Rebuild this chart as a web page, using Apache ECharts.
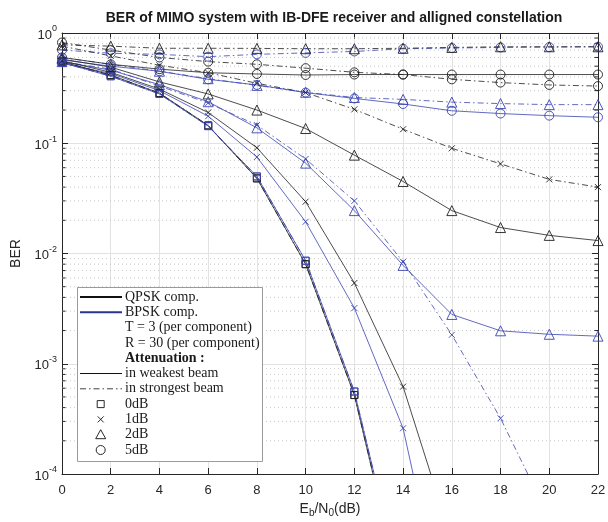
<!DOCTYPE html>
<html><head><meta charset="utf-8">
<script src="https://cdn.jsdelivr.net/npm/echarts@6/dist/echarts.min.js"></script>
<style>html,body{margin:0;padding:0;background:#fff}#c{width:608px;height:522px}</style>
</head><body><div id="c"></div>
<script>
// ---- data ----
const xValues = [0, 2, 4, 6, 8, 10, 12, 14, 16, 18, 20, 22];
const xTickLabels = ['0','2','4','6','8','10','12','14','16','18','20','22'];
const yDecades = [-4, -3, -2, -1, 0];

// weakest beam (solid)
const qpskWeak0dB = [0.55, 0.415, 0.285, 0.145, 0.048, 0.0080, 5.2e-4, 7e-6, null, null, null, null];
const bpskWeak0dB = [0.54, 0.405, 0.28, 0.143, 0.050, 0.0086, 5.6e-4, 8e-6, null, null, null, null];
const qpskWeak1dB = [0.56, 0.44, 0.31, 0.19, 0.091, 0.0295, 0.0054, 6.2e-4, 2.5e-5, null, null, null];
const bpskWeak1dB = [0.53, 0.43, 0.30, 0.176, 0.075, 0.0194, 0.0032, 2.6e-4, 2.5e-6, null, null, null];
const qpskWeak2dB = [0.58, 0.49, 0.36, 0.28, 0.20, 0.136, 0.078, 0.045, 0.0245, 0.0172, 0.0146, 0.0131];
const bpskWeak2dB = [0.55, 0.46, 0.34, 0.238, 0.138, 0.066, 0.0245, 0.0078, 0.0028, 0.00199, 0.00185, 0.00178];
const qpskWeak5dB = [0.60, 0.52, 0.47, 0.436, 0.425, 0.416, 0.42, 0.42, 0.42, 0.42, 0.42, 0.42];
const bpskWeak5dB = [0.57, 0.50, 0.45, 0.38, 0.338, 0.288, 0.255, 0.227, 0.197, 0.186, 0.178, 0.172];
// strongest beam (dash-dot)
const qpskStrong0dB = [0.55, 0.415, 0.285, 0.145, 0.048, 0.0080, 5.2e-4, 7e-6, null, null, null, null];
const bpskStrong0dB = [0.54, 0.405, 0.28, 0.143, 0.050, 0.0086, 5.6e-4, 8e-6, null, null, null, null];
const qpskStrong1dB = [0.76, 0.62, 0.51, 0.436, 0.35, 0.288, 0.203, 0.134, 0.09, 0.065, 0.047, 0.040];
const bpskStrong1dB = [0.55, 0.47, 0.33, 0.232, 0.146, 0.072, 0.030, 0.0084, 0.00183, 3.2e-4, 4e-5, 5e-6];
const qpskStrong2dB = [0.78, 0.76, 0.727, 0.727, 0.725, 0.72, 0.72, 0.727, 0.74, 0.75, 0.75, 0.75];
const bpskStrong2dB = [0.60, 0.52, 0.45, 0.385, 0.335, 0.29, 0.26, 0.25, 0.236, 0.229, 0.224, 0.224];
const qpskStrong5dB = [0.82, 0.70, 0.60, 0.55, 0.52, 0.48, 0.44, 0.42, 0.38, 0.355, 0.338, 0.33];
const bpskStrong5dB = [0.70, 0.655, 0.64, 0.61, 0.64, 0.66, 0.68, 0.72, 0.73, 0.74, 0.745, 0.75];

const legendRows = ['QPSK comp.', 'BPSK comp.', 'T = 3 (per component)', 'R = 30 (per component)',
  'Attenuation :', 'in weakest beam', 'in strongest beam', '0dB', '1dB', '2dB', '5dB'];

// ---- styling ----
const BLACK = '#1f1f1f';
const BLUE = '#3a44b2';
const DASHDOT = [6, 3, 1.5, 3];
const CROSS = 'path://M0,0L10,10M10,0L0,10';
const MARK = {
  '0dB': {symbol: 'rect', size: 7},
  '1dB': {symbol: CROSS, size: 6},
  '2dB': {symbol: 'triangle', size: 10},
  '5dB': {symbol: 'circle', size: 9}
};

function mkSeries(name, vals, color, dashed, att) {
  return {
    name: name, type: 'line', xAxisIndex: 0, yAxisIndex: 0,
    data: xValues.map((x, i) => [x, vals[i]]),
    connectNulls: false,
    symbol: MARK[att].symbol, symbolSize: MARK[att].size,
    showSymbol: true, showAllSymbol: true,
    lineStyle: {color: color, width: 0.8, type: dashed ? DASHDOT : 'solid'},
    itemStyle: {color: 'rgba(0,0,0,0)', borderColor: color, borderWidth: 0.9},
    emphasis: {disabled: true}, silent: true, clip: true, z: 5
  };
}

const seriesList = [
  mkSeries('qs5', qpskStrong5dB, BLACK, true, '5dB'),
  mkSeries('bs5', bpskStrong5dB, BLUE, true, '5dB'),
  mkSeries('qs2', qpskStrong2dB, BLACK, true, '2dB'),
  mkSeries('bs2', bpskStrong2dB, BLUE, true, '2dB'),
  mkSeries('qs1', qpskStrong1dB, BLACK, true, '1dB'),
  mkSeries('bs1', bpskStrong1dB, BLUE, true, '1dB'),
  mkSeries('qs0', qpskStrong0dB, BLACK, true, '0dB'),
  mkSeries('bs0', bpskStrong0dB, BLUE, true, '0dB'),
  mkSeries('qw5', qpskWeak5dB, BLACK, false, '5dB'),
  mkSeries('bw5', bpskWeak5dB, BLUE, false, '5dB'),
  mkSeries('qw2', qpskWeak2dB, BLACK, false, '2dB'),
  mkSeries('bw2', bpskWeak2dB, BLUE, false, '2dB'),
  mkSeries('qw1', qpskWeak1dB, BLACK, false, '1dB'),
  mkSeries('bw1', bpskWeak1dB, BLUE, false, '1dB'),
  mkSeries('qw0', qpskWeak0dB, BLACK, false, '0dB'),
  mkSeries('bw0', bpskWeak0dB, BLUE, false, '0dB')
];

// minor log grid (2..9 x each decade)
const minorVals = [];
yDecades.slice(0, -1).forEach(d => { for (let m = 2; m <= 9; m++) minorVals.push([0, m * Math.pow(10, d)]); });
seriesList.unshift({
  type: 'custom', xAxisIndex: 0, yAxisIndex: 0, silent: true, z: 1,
  data: minorVals, encode: {x: 0, y: 1},
  renderItem: function (params, api) {
    const v = api.value(1);
    const a = api.coord([xValues[0], v]);
    const b = api.coord([xValues[xValues.length - 1], v]);
    return {type: 'group', children: [
      {type: 'line', shape: {x1: a[0], y1: a[1], x2: b[0], y2: b[1]},
       style: {stroke: '#c8c8c8', lineWidth: 1, lineDash: [1, 3]}},
      {type: 'line', shape: {x1: a[0], y1: a[1], x2: a[0] + 3.5, y2: a[1]},
       style: {stroke: '#262626', lineWidth: 1}},
      {type: 'line', shape: {x1: b[0] - 3.5, y1: b[1], x2: b[0], y2: b[1]},
       style: {stroke: '#262626', lineWidth: 1}}
    ]};
  }
});

const AX = '#262626';
const FONT = '"Liberation Sans", Arial, Helvetica, sans-serif';
const SERIF = '"Liberation Serif", "Times New Roman", serif';

// ---- legend (graphic) ----
const LX = 77, LY = 287, LW = 185, LH = 174, ROW0 = 297, RSTEP = 15.3;
const lineX1 = 80, lineX2 = 122, txtX = 125, mkX = 100.7;
const g = [{type: 'rect', shape: {x: LX + 0.5, y: LY + 0.5, width: LW, height: LH},
  style: {fill: '#fff', stroke: '#9a9a9a', lineWidth: 1}, z: 50}];
legendRows.forEach((t, i) => {
  const y = ROW0 + i * RSTEP;
  g.push({type: 'text', x: txtX, y: y, z: 51,
    style: {text: t, font: (i === 4 ? 'bold ' : '') + '14px ' + SERIF, fill: '#1a1a1a',
      textVerticalAlign: 'middle', textAlign: 'left'}});
});
const ry = i => ROW0 + i * RSTEP;
g.push({type: 'line', z: 51, shape: {x1: lineX1, y1: ry(0), x2: lineX2, y2: ry(0)}, style: {stroke: '#111', lineWidth: 2}});
g.push({type: 'line', z: 51, shape: {x1: lineX1, y1: ry(1), x2: lineX2, y2: ry(1)}, style: {stroke: '#2a3590', lineWidth: 2}});
g.push({type: 'line', z: 51, shape: {x1: lineX1, y1: ry(5), x2: lineX2, y2: ry(5)}, style: {stroke: '#111', lineWidth: 1}});
g.push({type: 'line', z: 51, shape: {x1: lineX1, y1: ry(6), x2: lineX2, y2: ry(6)}, style: {stroke: '#111', lineWidth: 0.8, lineDash: DASHDOT}});
g.push({type: 'rect', z: 51, shape: {x: mkX - 3.5, y: ry(7) - 3.5, width: 7, height: 7}, style: {fill: 'none', stroke: '#111', lineWidth: 0.9}});
g.push({type: 'line', z: 51, shape: {x1: mkX - 3, y1: ry(8) - 3, x2: mkX + 3, y2: ry(8) + 3}, style: {stroke: '#111', lineWidth: 0.9}});
g.push({type: 'line', z: 51, shape: {x1: mkX - 3, y1: ry(8) + 3, x2: mkX + 3, y2: ry(8) - 3}, style: {stroke: '#111', lineWidth: 0.9}});
g.push({type: 'polygon', z: 51, shape: {points: [[mkX, ry(9) - 5], [mkX + 5, ry(9) + 4], [mkX - 5, ry(9) + 4]]}, style: {fill: 'none', stroke: '#111', lineWidth: 0.9}});
g.push({type: 'circle', z: 51, shape: {cx: mkX, cy: ry(10), r: 4.5}, style: {fill: 'none', stroke: '#111', lineWidth: 0.9}});
// title
g.push({type: 'text', x: 334, y: 18, z: 51, style: {text: 'BER of MIMO system with IB-DFE receiver and alligned constellation',
  font: 'bold 14px ' + FONT, fill: '#1a1a1a', textAlign: 'center', textVerticalAlign: 'middle'}});

const chart = echarts.init(document.getElementById('c'), null, {renderer: 'canvas'});
chart.setOption({
  animation: false,
  backgroundColor: '#fff',
  grid: {left: 62, right: 10, top: 33, bottom: 48, containLabel: false, outerBoundsMode: 'none'},
  xAxis: [{
    type: 'value', min: 0, max: 22, interval: 2, position: 'bottom',
    name: '{n|E}{s|b}{n|/N}{s|0}{n|(dB)}', nameLocation: 'middle', nameGap: 26,
    nameTextStyle: {rich: {
      n: {fontSize: 14, fontFamily: FONT, color: AX, verticalAlign: 'middle', lineHeight: 18},
      s: {fontSize: 10, fontFamily: FONT, color: AX, verticalAlign: 'bottom', lineHeight: 12}
    }},
    axisLine: {show: true, onZero: false, lineStyle: {color: AX, width: 1}},
    axisTick: {show: true, inside: true, length: 6, lineStyle: {color: AX}},
    axisLabel: {fontSize: 13, fontFamily: FONT, color: AX, margin: 10,
      formatter: v => xTickLabels[xValues.indexOf(v)]},
    splitLine: {show: true, lineStyle: {color: '#e2e2e2', width: 1}}
  }, {
    type: 'value', min: 0, max: 22, interval: 2, position: 'top',
    axisLine: {show: true, onZero: false, lineStyle: {color: AX, width: 1}},
    axisTick: {show: true, inside: true, length: 6, lineStyle: {color: AX}},
    axisLabel: {show: false}, splitLine: {show: false}
  }],
  yAxis: [{
    type: 'log', logBase: 10, min: 1e-4, max: 1, position: 'left',
    name: 'BER', nameLocation: 'middle', nameGap: 36, nameRotate: 90,
    nameTextStyle: {fontSize: 14, fontFamily: FONT, color: AX},
    axisLine: {show: true, onZero: false, lineStyle: {color: AX, width: 1}},
    axisTick: {show: true, inside: true, length: 6, lineStyle: {color: AX}},
    axisLabel: {margin: 5, formatter: function (v) {
        const e = Math.round(Math.log10(v));
        return '{b|10}{s|' + e + '}';
      },
      rich: {
        b: {fontSize: 13, fontFamily: FONT, color: AX, verticalAlign: 'bottom', lineHeight: 17},
        s: {fontSize: 9, fontFamily: FONT, color: AX, verticalAlign: 'top', lineHeight: 17}
      }},
    splitLine: {show: true, lineStyle: {color: '#e2e2e2', width: 1}}
  }, {
    type: 'log', logBase: 10, min: 1e-4, max: 1, position: 'right',
    axisLine: {show: true, onZero: false, lineStyle: {color: AX, width: 1}},
    axisTick: {show: true, inside: true, length: 6, lineStyle: {color: AX}},
    axisLabel: {show: false}, splitLine: {show: false}
  }],
  series: seriesList,
  graphic: g
});
</script>
</body></html>
